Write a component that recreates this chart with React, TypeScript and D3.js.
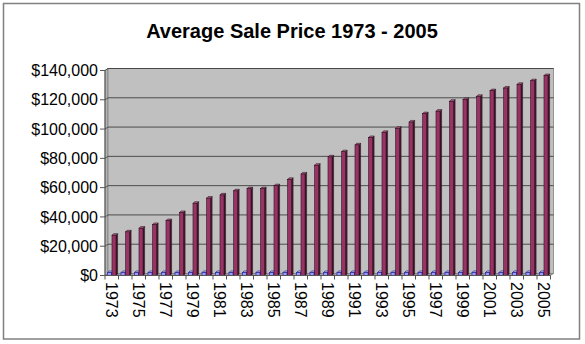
import React from "react";
import * as d3 from "d3";

const title = "Average Sale Price 1973 - 2005";
const categories = [
  "1973","1974","1975","1976","1977","1978","1979","1980","1981","1982","1983",
  "1984","1985","1986","1987","1988","1989","1990","1991","1992","1993","1994",
  "1995","1996","1997","1998","1999","2000","2001","2002","2003","2004","2005",
];
// The small blue series is the "Year" column plotted as values
const yearSeries = [
  1973,1974,1975,1976,1977,1978,1979,1980,1981,1982,1983,
  1984,1985,1986,1987,1988,1989,1990,1991,1992,1993,1994,
  1995,1996,1997,1998,1999,2000,2001,2002,2003,2004,2005,
];
const priceSeries = [
  27500, 29800, 32300, 34800, 37500, 43000, 49300, 52800, 55000, 57800, 59300,
  59300, 61300, 65600, 69300, 75300, 81000, 84500, 89200, 94200, 97700, 100500,
  104800, 110500, 112200, 119000, 120200, 122300, 126200, 128000, 130500, 133000, 136500,
];
const yTicks = [0, 20000, 40000, 60000, 80000, 100000, 120000, 140000];
const xLabels = [
  "1973","1975","1977","1979","1981","1983","1985","1987","1989",
  "1991","1993","1995","1997","1999","2001","2003","2005",
];

const FONT = "'Liberation Sans', Arial, sans-serif";

export default function App() {
  const W = 585, H = 344;
  const left = 105, right = 550.5, bottom = 275.5, top = 70.5;
  const dx = 3, dy = -2; // wall depth offset
  const bd = 1.6; // bar depth

  const x = d3.scaleBand<string>().domain(categories).range([left, right]);
  const y = d3.scaleLinear().domain([0, 140000]).range([bottom, top]);
  const bw = x.bandwidth();
  const sub = d3.scaleBand<string>().domain(["year", "price"]).range([2.5, 11]).paddingInner(0.1);
  const fmt = d3.format("$,.0f");

  const bar = (key: string, cat: string, v: number, front: string, side: string, topc: string, stroke: string, sw: number) => {
    const x0 = (x(cat) as number) + (sub(key) as number);
    const w = sub.bandwidth();
    const yv = y(v);
    const y0 = y(0);
    return (
      <g key={key + cat}>
        <polygon
          points={`${x0 + w},${yv} ${x0 + w + bd},${yv - bd} ${x0 + w + bd},${y0 - bd} ${x0 + w},${y0}`}
          fill={side} stroke={stroke} strokeWidth={sw}
        />
        <polygon
          points={`${x0},${yv} ${x0 + bd},${yv - bd} ${x0 + w + bd},${yv - bd} ${x0 + w},${yv}`}
          fill={topc} stroke={stroke} strokeWidth={sw}
        />
        <rect x={x0} y={yv} width={w} height={y0 - yv} fill={front} stroke={stroke} strokeWidth={sw} />
      </g>
    );
  };

  return (
    <svg width={W} height={H} style={{ position: "absolute", left: 0, top: 0, background: "#fff" }} fontFamily={FONT}>
      <rect x={3.5} y={3.5} width={576} height={335.5} fill="#fff" stroke="#808080" strokeWidth={1.5} />
      <text x={292} y={38} textAnchor="middle" fontSize={20} fontWeight="bold" fill="#000">{title}</text>

      {/* side wall */}
      <polygon
        points={`${left},${bottom} ${left},${top} ${left + dx},${top + dy} ${left + dx},${bottom + dy}`}
        fill="#b4b4b4" stroke="#808080" strokeWidth={0.8}
      />
      {/* back wall */}
      <rect x={left + dx} y={top + dy} width={right - left} height={bottom - top} fill="#c0c0c0" stroke="#808080" strokeWidth={0.8} />
      {/* floor */}
      <polygon
        points={`${left},${bottom} ${right},${bottom} ${right + dx},${bottom + dy} ${left + dx},${bottom + dy}`}
        fill="#a0a0a0" stroke="#808080" strokeWidth={0.8}
      />
      {/* gridlines */}
      {yTicks.filter((t) => t > 0).map((t) => (
        <g key={"g" + t}>
          <line x1={left} y1={y(t)} x2={left + dx} y2={y(t) + dy} stroke="#404040" strokeWidth={0.8} />
          <line x1={left + dx} y1={y(t) + dy} x2={right + dx} y2={y(t) + dy} stroke="#404040" strokeWidth={0.9} />
        </g>
      ))}

      {/* bars */}
      {categories.map((c, i) => bar("year", c, yearSeries[i], "#9999ff", "#5c5c99", "#c2c2ff", "#333399", 0.8))}
      {categories.map((c, i) => bar("price", c, priceSeries[i], "#993366", "#4c1933", "#b85c8a", "#1a0a10", 0.5))}

      {/* value axis */}
      <line x1={left} y1={top} x2={left} y2={bottom} stroke="#555" strokeWidth={1} />
      {yTicks.map((t) => (
        <g key={"t" + t}>
          <line x1={left - 5} y1={y(t)} x2={left} y2={y(t)} stroke="#555" strokeWidth={1} />
          <text x={98} y={y(t)} dy="0.35em" textAnchor="end" fontSize={16} fill="#000">{fmt(t)}</text>
        </g>
      ))}

      {/* category axis */}
      <line x1={left} y1={bottom} x2={right} y2={bottom} stroke="#555" strokeWidth={1} />
      {categories.map((c) => (
        <line key={"ct" + c} x1={x(c) as number} y1={bottom} x2={x(c) as number} y2={bottom + 4} stroke="#555" strokeWidth={1} />
      ))}
      <line x1={right} y1={bottom} x2={right} y2={bottom + 4} stroke="#555" strokeWidth={1} />
      {xLabels.map((c) => {
        const cx = (x(c) as number) + bw / 2;
        return (
          <text key={"xl" + c} transform={`translate(${cx},${282}) rotate(90)`} dy="0.35em" textAnchor="start" fontSize={16} fill="#000">
            {c}
          </text>
        );
      })}
    </svg>
  );
}
